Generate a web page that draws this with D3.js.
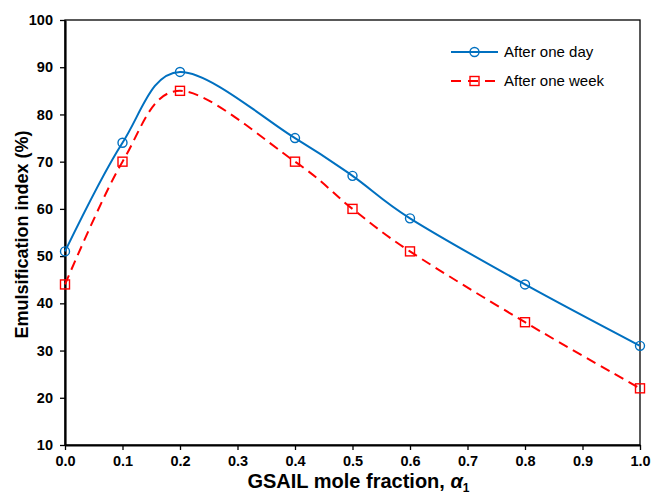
<!DOCTYPE html>
<html>
<head>
<meta charset="utf-8">
<script src="https://cdn.jsdelivr.net/npm/d3@7"></script>
<style>
  body { margin: 0; background: #fff; }
  svg { display: block; font-family: Arial, "Liberation Sans", sans-serif; }
</style>
</head>
<body>
<svg id="chart"></svg>
<script>
// data
const fractions = [0, 0.1, 0.2, 0.4, 0.5, 0.6, 0.8, 1.0];
const oneDay = [51, 74, 89, 75, 67, 58, 44, 31];
const oneWeek = [44, 70, 85, 70, 60, 51, 36, 22];
const xTicks = [0, 0.1, 0.2, 0.3, 0.4, 0.5, 0.6, 0.7, 0.8, 0.9, 1.0];
const yTicks = [10, 20, 30, 40, 50, 60, 70, 80, 90, 100];

const W = 651, H = 494;
const margin = { top: 20, right: 11, bottom: 49, left: 65 };
const width = W - margin.left - margin.right;
const height = H - margin.top - margin.bottom;

const svg = d3.select('#chart').attr('width', W).attr('height', H);

const x = d3.scaleLinear().domain([0, 1]).range([0, width]);
const y = d3.scaleLinear().domain([10, 100]).range([height, 0]);

const g = svg.append('g').attr('transform', `translate(${margin.left},${margin.top})`);

// frame
g.append('rect')
  .attr('x', 0).attr('y', 0)
  .attr('width', width).attr('height', height)
  .attr('fill', 'none').attr('stroke', '#000').attr('stroke-width', 1.3);

const xAxis = g.append('g')
  .attr('transform', `translate(0,${height})`)
  .call(d3.axisBottom(x).tickValues(xTicks).tickFormat(d3.format('.1f')).tickSize(5).tickSizeOuter(0));
const yAxis = g.append('g')
  .call(d3.axisLeft(y).tickValues(yTicks).tickSize(5).tickSizeOuter(0));

[xAxis, yAxis].forEach(ax => {
  ax.select('.domain').attr('stroke', '#000').attr('stroke-width', 2.2);
  ax.selectAll('.tick line').attr('stroke', '#000').attr('stroke-width', 1.3);
  ax.selectAll('.tick text')
    .attr('fill', '#000')
    .style('font-size', '14.5px')
    .style('font-weight', 'bold')
    .style('font-family', 'Arial, "Liberation Sans", sans-serif');
});
xAxis.selectAll('.tick text').attr('dy', '0.71em').attr('y', 11);
yAxis.selectAll('.tick text').attr('x', -12);

const series = [
  { name: 'After one day', values: oneDay, color: '#0070C0', dash: null, marker: 'circle' },
  { name: 'After one week', values: oneWeek, color: '#FF0000', dash: '10,6', marker: 'square' }
];

const line = d3.line()
  .x(d => x(d[0]))
  .y(d => y(d[1]))
  .curve(d3.curveCardinal.tension(0));

function drawMarker(sel, type, cx, cy, color) {
  if (type === 'circle') {
    sel.append('circle').attr('cx', cx).attr('cy', cy).attr('r', 4.5)
      .attr('fill', 'none').attr('stroke', color).attr('stroke-width', 1.4);
  } else {
    sel.append('rect').attr('x', cx - 4.5).attr('y', cy - 4.5)
      .attr('width', 9).attr('height', 9)
      .attr('fill', 'none').attr('stroke', color).attr('stroke-width', 1.4);
  }
}

series.forEach(s => {
  const pts = fractions.map((f, i) => [f, s.values[i]]);
  g.append('path')
    .attr('d', line(pts))
    .attr('fill', 'none')
    .attr('stroke', s.color)
    .attr('stroke-width', 2)
    .attr('stroke-dasharray', s.dash);
  const mg = g.append('g');
  pts.forEach(p => drawMarker(mg, s.marker, x(p[0]), y(p[1]), s.color));
});

// legend
const legend = svg.append('g').attr('transform', 'translate(451,52)');
series.forEach((s, i) => {
  const row = legend.append('g').attr('transform', `translate(0,${i * 29})`);
  row.append('line').attr('x1', 0).attr('x2', 47).attr('y1', 0).attr('y2', 0)
    .attr('stroke', s.color).attr('stroke-width', 2).attr('stroke-dasharray', s.dash ? '10,7' : null);
  drawMarker(row, s.marker, 23.5, 0, s.color);
  row.append('text').attr('x', 53).attr('y', 0).attr('dy', '0.35em')
    .style('font-size', '15px').text(s.name);
});

// axis titles
svg.append('text')
  .attr('transform', `translate(22,${margin.top + height / 2 + 2}) rotate(-90)`)
  .attr('text-anchor', 'middle').attr('dy', '0.35em')
  .style('font-size', '18px').style('font-weight', 'bold')
  .text('Emulsification index (%)');

const xt = svg.append('text')
  .attr('x', margin.left + width / 2 + 6).attr('y', 488)
  .attr('text-anchor', 'middle')
  .style('font-size', '20px').style('font-weight', 'bold');
xt.append('tspan').text('GSAIL mole fraction, ');
xt.append('tspan').style('font-style', 'italic').text('α');
xt.append('tspan').attr('dy', 4).style('font-size', '12px').text('1');
</script>
</body>
</html>
